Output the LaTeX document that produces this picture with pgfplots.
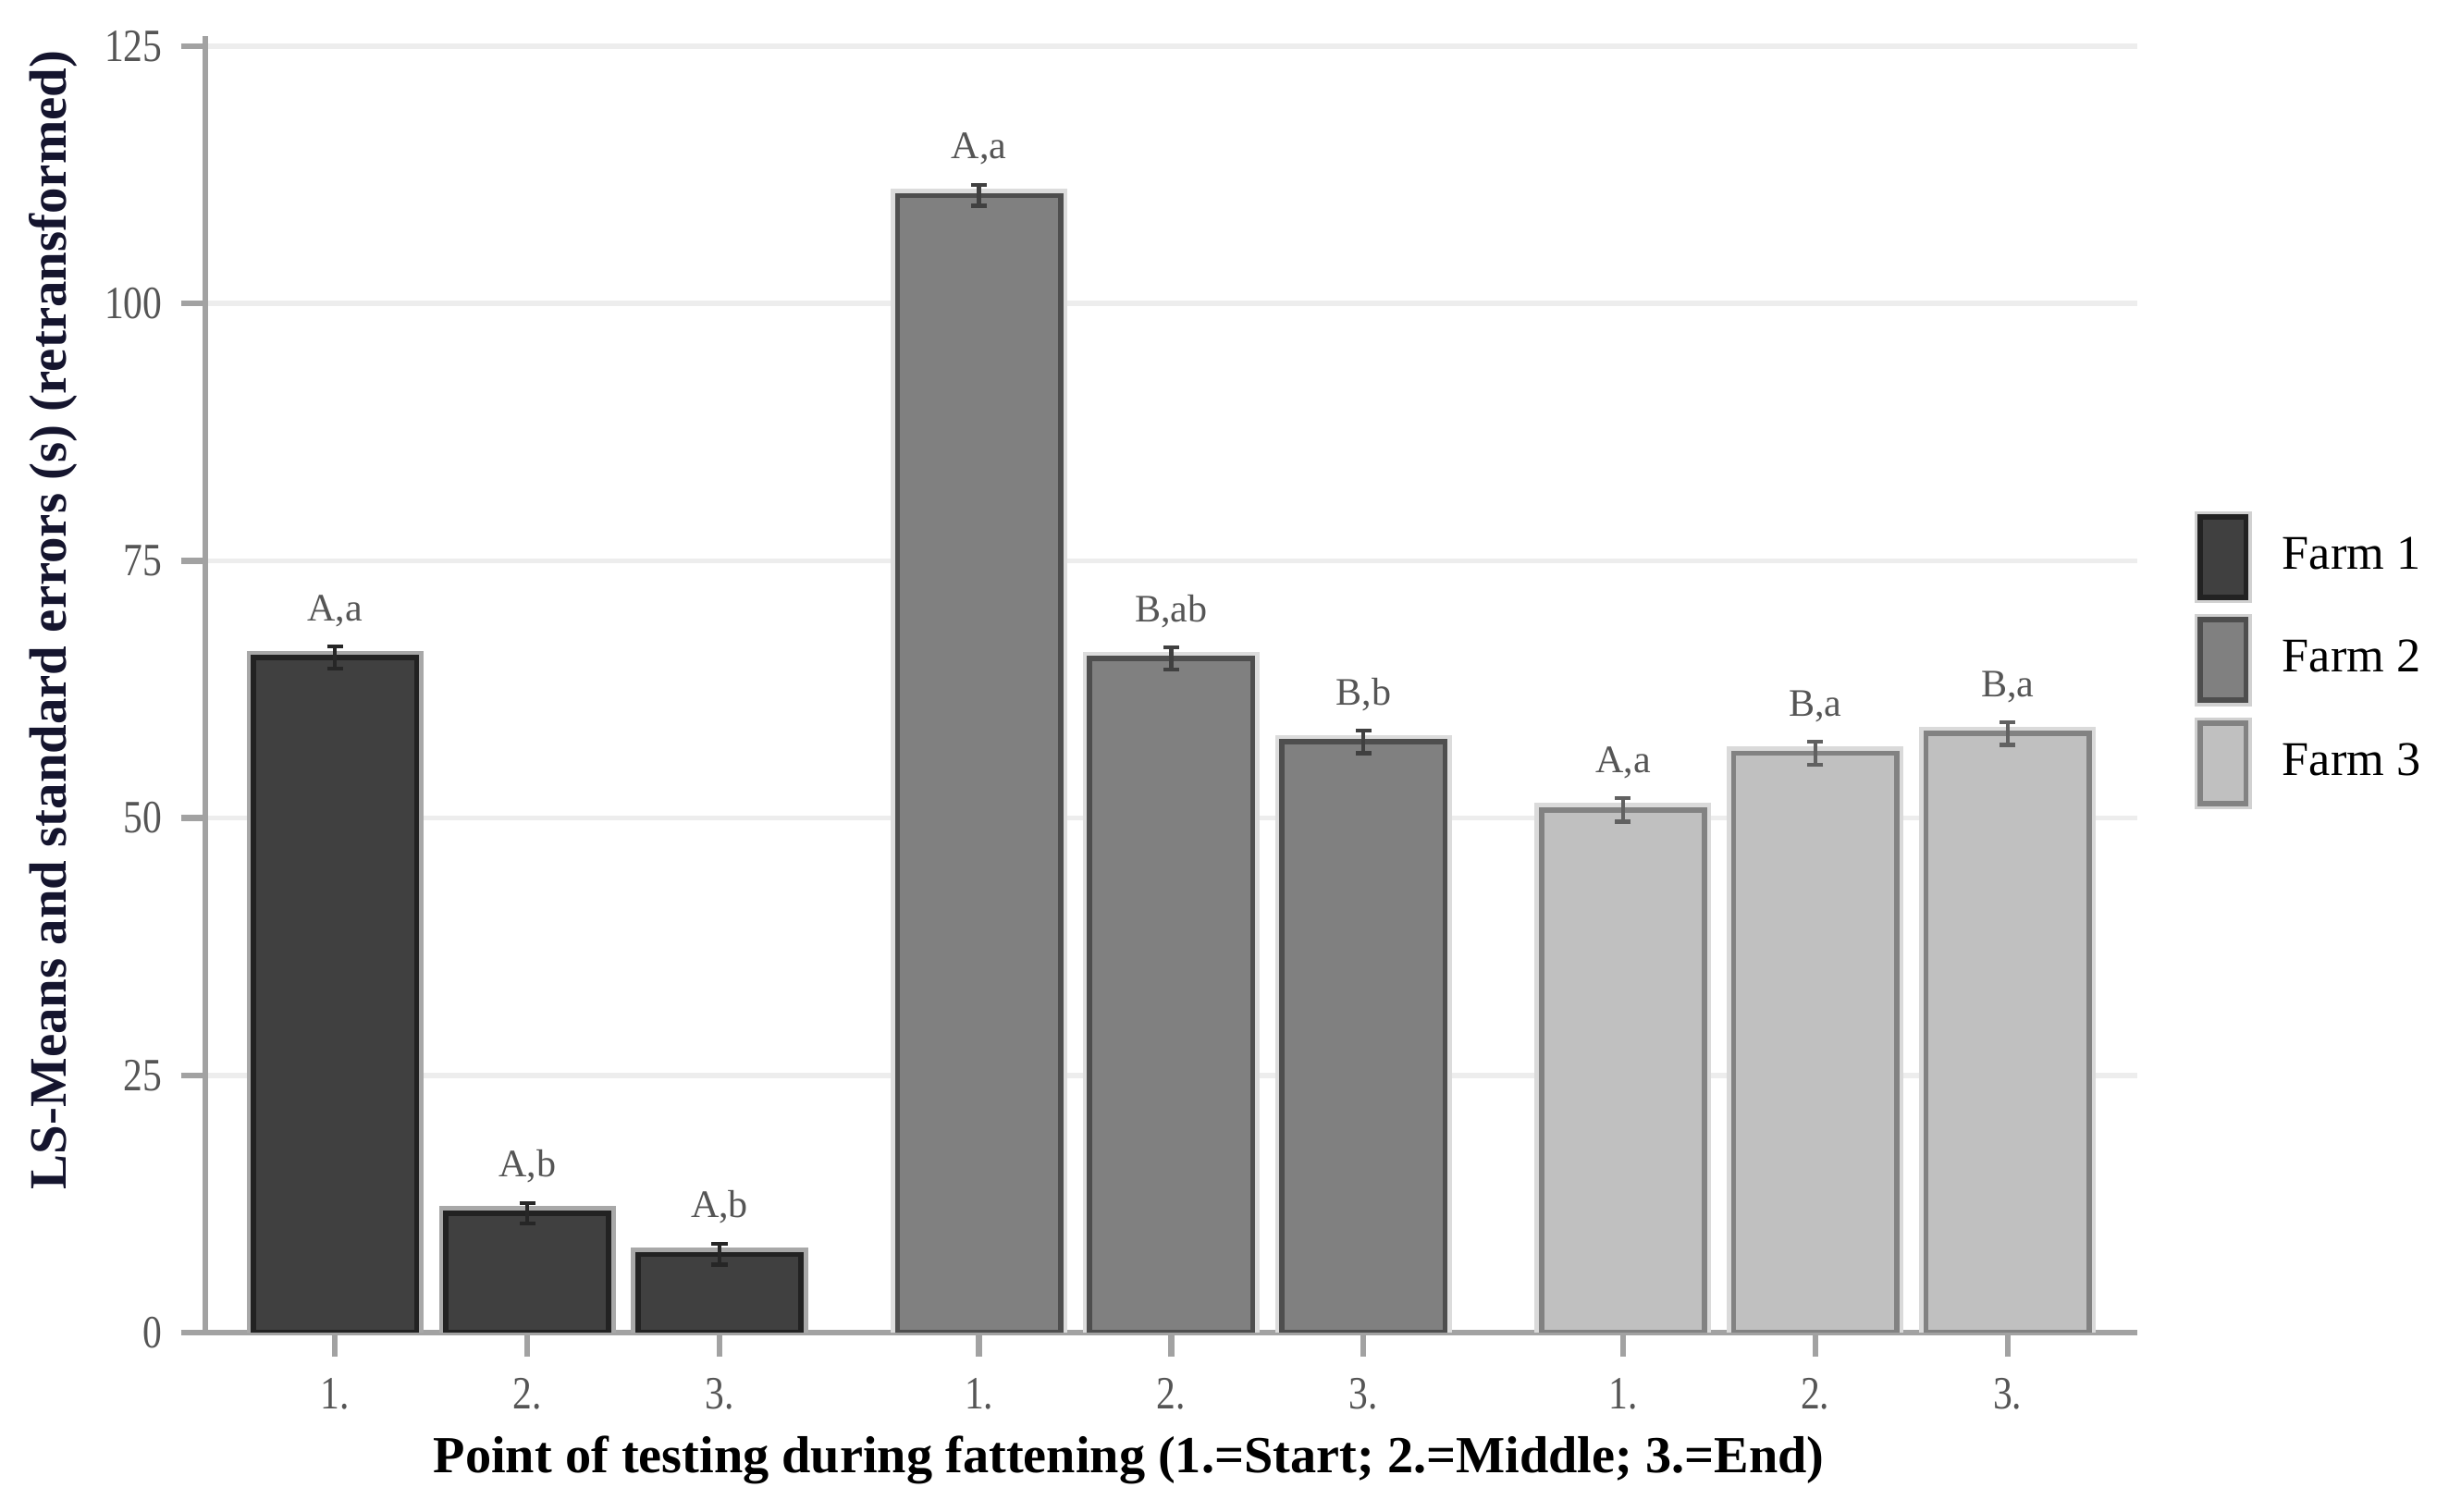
\documentclass[border=0pt]{standalone}
\usepackage{pgfplots}
\pgfplotsset{compat=1.18}
\usepackage{pgfplotstable}
\usepackage{fontspec}
\setmainfont{Liberation Serif}
\newfontfamily\condensed{Liberation Serif}[FakeStretch=0.83]
\definecolor{fone}{HTML}{404040}
\definecolor{fonee}{HTML}{222222}
\definecolor{foneh}{HTML}{A8A8A8}
\definecolor{ftwo}{HTML}{808080}
\definecolor{ftwoe}{HTML}{4E4E4E}
\definecolor{ftwoh}{HTML}{DCDCDC}
\definecolor{fthree}{HTML}{C0C0C0}
\definecolor{fthreee}{HTML}{828282}
\definecolor{fthreeh}{HTML}{DADADA}
\definecolor{axgray}{HTML}{A2A2A2}
\definecolor{ticktxt}{HTML}{555555}
\definecolor{ylabc}{HTML}{15152E}

\pgfplotstableread{
x y err lab
0 65.6 1.1 A,a
1 11.6 1.0 A,b
2 7.6 1.0 A,b
}\farmone
\pgfplotstableread{
x y err lab
3.35 110.5 1.0 A,a
4.35 65.5 1.1 B,ab
5.35 57.4 1.1 B,b
}\farmtwo
\pgfplotstableread{
x y err lab
6.70 50.8 1.15 A,a
7.70 56.3 1.1 B,a
8.70 58.2 1.1 B,a
}\farmthree

\begin{document}
\begin{tikzpicture}
\begin{axis}[
  scale only axis,
  width=367.5pt, height=246.57pt,
  xmin=-0.676, xmax=9.377,
  ymin=0, ymax=126,
  ytick={0,25,50,75,100,125},
  xtick={0,1,2,3.35,4.35,5.35,6.70,7.70,8.70},
  xticklabels={1.,2.,3.,1.,2.,3.,1.,2.,3.},
  axis x line*=bottom, axis y line*=left,
  axis line style={-, axgray, line width=1.1pt},
  tick style={axgray, line width=1.1pt},
  major tick length=4.6pt,
  tick align=outside,
  ymajorgrids,
  major grid style={color=black!7, line width=1pt},
  /pgf/number format/assume math mode=true,
  tick label style={font=\condensed\fontsize{8.8}{10}\selectfont, color=ticktxt},
  xticklabel style={anchor=base, yshift=-9.9pt},
  every axis x label/.style={at={(axis description cs:0.478,0)}, anchor=base, yshift=-26.7pt,
    font=\fontsize{9.9}{12}\selectfont\bfseries},
  every axis y label/.style={at={(axis description cs:-0.0718,0.5496)}, anchor=base, rotate=90,
    font=\fontsize{10}{12}\selectfont\bfseries, color=ylabc},
  xlabel={Point of testing during fattening (1.=Start; 2.=Middle; 3.=End)},
  ylabel={LS-Means and standard errors (s) (retransformed)},
  ybar, bar shift=0pt, bar width=0.848,
  every node near coord/.append style={font=\fontsize{7.4}{8}\selectfont, color=ticktxt, anchor=base, yshift=7pt},
  legend image code/.code={\draw[#1, preaction={draw=black!18, line width=2.2pt}] (0pt,-7.65pt) rectangle (8.7pt,7.65pt);},
  legend style={draw=none, fill=none, at={(1.0294,0.5186)}, anchor=west,
    font=\fontsize{9.2}{11}\selectfont, row sep=2.1pt, inner sep=0pt, outer sep=0pt,
    nodes={inner sep=0pt},
    /tikz/every odd column/.append style={column sep=5.8pt}},
  legend cell align=left,
]
% light outer rims of the bars
\addplot[draw=foneh, line width=2.6pt, fill=none, forget plot] table[x=x, y=y] {\farmone};
\addplot[draw=ftwoh, line width=2.6pt, fill=none, forget plot] table[x=x, y=y] {\farmtwo};
\addplot[draw=fthreeh, line width=2.6pt, fill=none, forget plot] table[x=x, y=y] {\farmthree};
% bars
\addplot[fill=fone, draw=fonee, line width=1pt,
  nodes near coords, point meta=explicit symbolic,
  error bars/.cd, y dir=both, y explicit,
  error bar style={line width=0.75pt, color=black!85},
  error mark options={rotate=90, mark size=1.5pt, line width=0.75pt, color=black!85}]
  table[x=x, y=y, y error=err, meta=lab] {\farmone};
\addlegendentry{Farm 1}
\addplot[fill=ftwo, draw=ftwoe, line width=1pt,
  nodes near coords, point meta=explicit symbolic,
  error bars/.cd, y dir=both, y explicit,
  error bar style={line width=0.75pt, color=black!75},
  error mark options={rotate=90, mark size=1.5pt, line width=0.75pt, color=black!75}]
  table[x=x, y=y, y error=err, meta=lab] {\farmtwo};
\addlegendentry{Farm 2}
\addplot[fill=fthree, draw=fthreee, line width=1pt,
  nodes near coords, point meta=explicit symbolic,
  error bars/.cd, y dir=both, y explicit,
  error bar style={line width=0.75pt, color=black!62},
  error mark options={rotate=90, mark size=1.5pt, line width=0.75pt, color=black!62}]
  table[x=x, y=y, y error=err, meta=lab] {\farmthree};
\addlegendentry{Farm 3}
\end{axis}
\pgfresetboundingbox
\path ([shift={(-39pt,-34.1pt)}]current axis.south west) rectangle ([shift={(61.5pt,6.84pt)}]current axis.north east);
\end{tikzpicture}
\end{document}
